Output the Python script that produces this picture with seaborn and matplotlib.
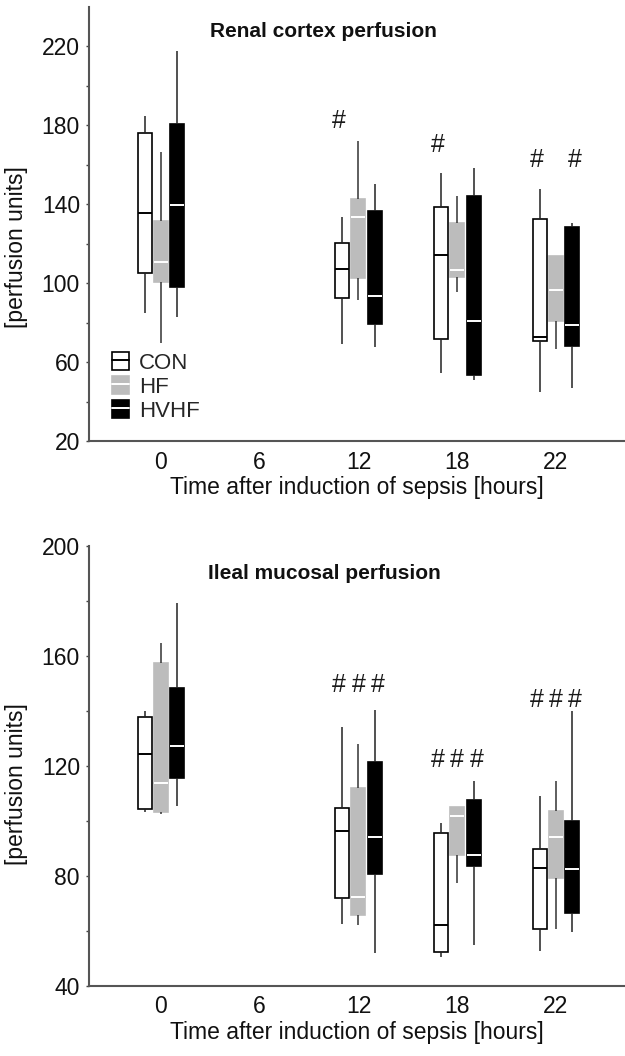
import numpy as np
import pandas as pd
import seaborn as sns
import matplotlib.pyplot as plt
from matplotlib.patches import Patch
from matplotlib.lines import Line2D

# Категории
times = ["0", "6", "12", "18", "22"]
data_times = ["0", "12", "18", "22"]
groups = ["CON", "HF", "HVHF"]

# Пять чисел на ящик: нижний ус, q1, медиана, q3, верхний ус
renal_con = [[84.7, 105.3, 135.4, 176.3, 184.5], [69.4, 92.3, 107.2, 120.2, 133.4],
             [54.5, 71.8, 114.3, 138.8, 156.0], [44.6, 70.5, 72.5, 132.5, 147.6]]
renal_hf = [[69.7, 100.7, 110.9, 131.7, 166.7], [91.4, 102.4, 133.4, 142.5, 172.3],
            [95.6, 103.2, 106.6, 130.7, 144.2], [66.4, 80.6, 96.5, 113.8, 113.8]]
renal_hvhf = [[82.6, 97.9, 139.6, 180.6, 217.5], [67.7, 79.1, 93.6, 136.8, 150.3],
              [50.8, 53.2, 80.9, 144.2, 158.6], [47.1, 68.1, 78.6, 128.3, 130.4]]

ileal_con = [[103.1, 104.1, 124.3, 137.8, 140.0], [62.4, 71.8, 96.4, 104.5, 134.0],
             [50.3, 52.4, 62.1, 95.6, 99.0], [52.7, 60.5, 82.7, 89.8, 109.0]]
ileal_hf = [[102.4, 103.3, 113.6, 157.2, 164.7], [62.1, 65.7, 72.1, 111.8, 127.9],
            [77.2, 87.5, 101.8, 105.1, 105.1], [60.5, 79.0, 94.2, 103.6, 114.5]]
ileal_hvhf = [[105.3, 115.6, 127.3, 148.1, 179.1], [51.8, 80.6, 94.0, 121.5, 140.3],
              [54.8, 83.5, 87.4, 107.5, 114.5], [59.6, 66.5, 82.5, 100.0, 140.0]]

# Значки "#" над ящиками
renal_marks = [("12", "CON", 182), ("18", "CON", 170), ("22", "CON", 162.5), ("22", "HVHF", 162.5)]
ileal_marks = [("12", "CON", 149.5), ("12", "HF", 149.5), ("12", "HVHF", 149.5),
               ("18", "CON", 122), ("18", "HF", 122), ("18", "HVHF", 122),
               ("22", "CON", 143.7), ("22", "HF", 143.7), ("22", "HVHF", 143.7)]

face = {"CON": "white", "HF": "#bcbcbc", "HVHF": "black"}
edge = {"CON": "black", "HF": "#bcbcbc", "HVHF": "black"}
median = {"CON": "black", "HF": "white", "HVHF": "white"}
whisk = {"CON": "#222222", "HF": "#333333", "HVHF": "#222222"}


def to_frame(con, hf, hvhf):
    rows = []
    for g, stats in zip(groups, [con, hf, hvhf]):
        for t, s in zip(data_times, stats):
            for v in s:
                rows.append({"time": t, "group": g, "value": v})
    return pd.DataFrame(rows)


sns.set_theme(style="ticks")
plt.rcParams["font.family"] = ["Liberation Sans", "DejaVu Sans"]

fig = plt.figure(figsize=(6.25, 10.56), dpi=100)
ax1 = fig.add_axes([0.1424, 0.5824, 0.8576, 0.411])
ax2 = fig.add_axes([0.1424, 0.0666, 0.8576, 0.4167])

panels = [
    (ax1, to_frame(renal_con, renal_hf, renal_hvhf), renal_marks, "Renal cortex perfusion", (20, 240), 225, 0.447),
    (ax2, to_frame(ileal_con, ileal_hf, ileal_hvhf), ileal_marks, "Ileal mucosal perfusion", (40, 200), 188, 0.458),
]

box_w = 0.5 / 3

for ax, df, marks, title, ylim, title_y, ylab_y in panels:
    sns.boxplot(data=df, x="time", y="value", hue="group", order=times, hue_order=groups,
                palette=face, width=0.5, gap=0.15, whis=(0, 100), showcaps=False,
                linewidth=1.2, linecolor="black", legend=False, ax=ax)

    for cont, g in zip(ax.containers, groups):
        for b in cont.boxes:
            b.set_edgecolor(edge[g])
            b.set_facecolor(face[g])
        for m in cont.medians:
            m.set_color(median[g])
            m.set_linewidth(1.4)
        for w in cont.whiskers:
            w.set_color(whisk[g])
            w.set_linewidth(1.1)

    # решётки чуть шире, чем ящики
    for t, g, y in marks:
        x = times.index(t) + (groups.index(g) - 1) * 0.195
        ax.text(x, y, "#", ha="center", va="center", fontsize=18, color="#1a1a1a")

    ax.text(1.65, title_y, title, ha="center", va="baseline", fontsize=15, fontweight="bold", color="#111111")

    ax.set_xlim(-0.729, 4.699)
    ax.set_ylim(*ylim)
    ax.set_yticks(np.arange(ylim[0], ylim[1] + 1, 40))
    ax.set_yticks(np.arange(ylim[0] + 20, ylim[1], 40), minor=True)
    ax.tick_params(axis="y", which="both", direction="out", length=2.5, width=1, color="#444444",
                   labelsize=16.5, pad=4, labelcolor="#111111")
    ax.tick_params(axis="x", length=0, labelsize=16.5, pad=7, labelcolor="#111111")
    sns.despine(ax=ax)
    for s in ["left", "bottom"]:
        ax.spines[s].set_color("#555555")
        ax.spines[s].set_linewidth(1.5)
    ax.set_xlabel("Time after induction of sepsis [hours]", fontsize=16.5, labelpad=2, color="#111111")
    ax.set_ylabel("[perfusion units]", fontsize=16.5, color="#111111")
    ax.yaxis.set_label_coords(-0.114, ylab_y)

# Легенда с ящиками
handles = [(Patch(facecolor=face[g], edgecolor=edge[g], linewidth=1.2),
            Line2D([], [], color=median[g], lw=1.4)) for g in groups]
ax1.legend(handles, groups, loc="lower left", bbox_to_anchor=(0.042, 0.044), frameon=False,
           borderpad=0, borderaxespad=0, fontsize=16, handlelength=0.8, handleheight=0.9,
           handletextpad=0.45, labelspacing=0.1)

fig.savefig("out.png", dpi=100)
